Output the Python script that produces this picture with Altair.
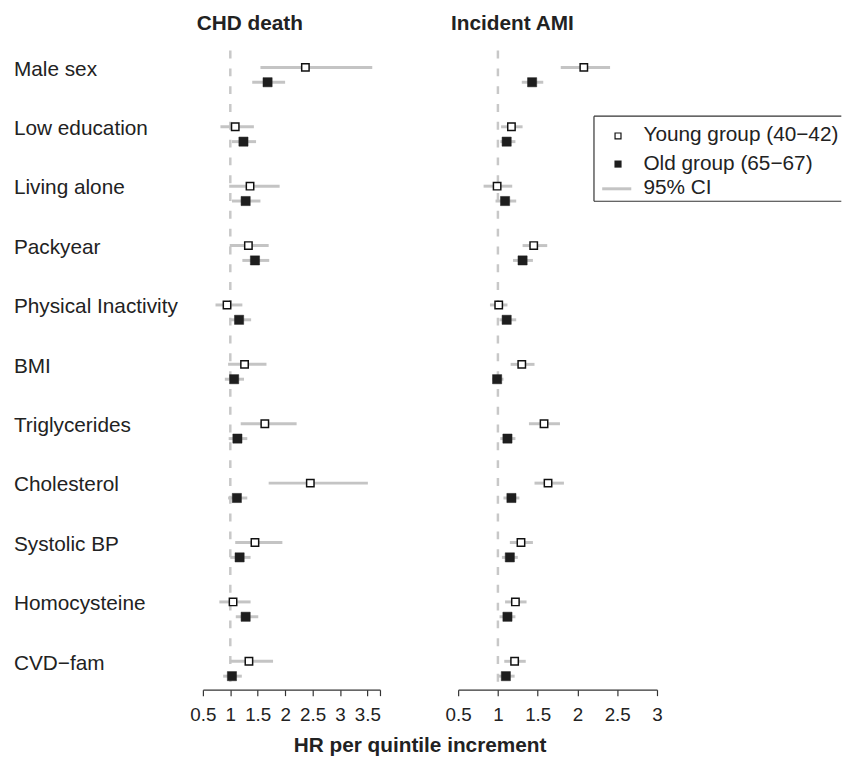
import altair as alt
import pandas as pd

FONT = "Liberation Sans"
INK = "#222222"

categories = ["Male sex", "Low education", "Living alone", "Packyear",
              "Physical Inactivity", "BMI", "Triglycerides", "Cholesterol",
              "Systolic BP", "Homocysteine", "CVD\u2212fam"]

# CHD death
chd_young_hr = [2.37, 1.09, 1.36, 1.33, 0.94, 1.26, 1.63, 2.46, 1.45, 1.05, 1.34]
chd_young_lo = [1.55, 0.82, 0.98, 0.99, 0.73, 0.96, 1.19, 1.70, 1.09, 0.80, 0.99]
chd_young_hi = [3.59, 1.43, 1.90, 1.70, 1.22, 1.66, 2.21, 3.51, 1.95, 1.37, 1.78]
chd_old_hr = [1.68, 1.24, 1.28, 1.45, 1.16, 1.07, 1.13, 1.12, 1.17, 1.28, 1.03]
chd_old_lo = [1.40, 1.03, 1.03, 1.22, 0.99, 0.90, 0.97, 0.96, 1.00, 1.10, 0.87]
chd_old_hi = [2.00, 1.47, 1.55, 1.71, 1.38, 1.25, 1.31, 1.31, 1.37, 1.51, 1.21]

# Incident AMI
ami_young_hr = [2.08, 1.17, 0.99, 1.45, 1.01, 1.30, 1.58, 1.63, 1.29, 1.22, 1.21]
ami_young_lo = [1.79, 1.04, 0.82, 1.31, 0.90, 1.16, 1.39, 1.46, 1.15, 1.09, 1.08]
ami_young_hi = [2.41, 1.31, 1.18, 1.62, 1.12, 1.46, 1.78, 1.83, 1.44, 1.36, 1.35]
ami_old_hr = [1.43, 1.11, 1.09, 1.31, 1.11, 0.99, 1.12, 1.17, 1.15, 1.12, 1.10]
ami_old_lo = [1.30, 1.03, 0.97, 1.19, 1.02, 0.93, 1.03, 1.07, 1.05, 1.02, 1.00]
ami_old_hi = [1.57, 1.22, 1.23, 1.44, 1.23, 1.07, 1.22, 1.27, 1.25, 1.22, 1.21]

left_ticks = [0.5, 1, 1.5, 2, 2.5, 3, 3.5, 3.731]
right_ticks = [0.5, 1, 1.5, 2, 2.5, 3]

legend_labels = ["Young group (40\u221242)", "Old group (65\u221267)", "95% CI"]


def build(young, old):
    rows = []
    for i, cat in enumerate(categories):
        rows.append(dict(category=cat, group="Young", hr=young[0][i], lo=young[1][i],
                         hi=young[2][i], ypos=i + 0.0))
        rows.append(dict(category=cat, group="Old", hr=old[0][i], lo=old[1][i],
                         hi=old[2][i], ypos=i + 0.25))
    return pd.DataFrame(rows)


chd = build((chd_young_hr, chd_young_lo, chd_young_hi), (chd_old_hr, chd_old_lo, chd_old_hi))
ami = build((ami_young_hr, ami_young_lo, ami_young_hi), (ami_old_hr, ami_old_lo, ami_old_hi))
labels_df = pd.DataFrame({"category": categories, "ypos": list(range(len(categories)))})
one = pd.DataFrame({"k": [0]})

H = 646
yscale = alt.Scale(domain=[-0.283, 10.478], reverse=True, nice=False, zero=False)


def axis(values, title):
    kw = dict(values=values, grid=False, domainColor="#333333", domainWidth=1.2,
              tickColor="#333333", tickWidth=1.2, tickSize=6, labelFontSize=19,
              labelFont=FONT, labelColor=INK, labelPadding=10, labelFlush=False,
              labelOverlap=False, labelBound=False, labelSeparation=0,
              labelExpr="datum.value > 3.6 ? '' : toString(datum.value)")
    if title:
        kw.update(title=title, titleX=219, titleY=62, titleAlign="center",
                  titleBaseline="alphabetic", titleFontSize=21, titleFontWeight="bold",
                  titleFont=FONT, titleColor=INK)
    else:
        kw.update(title=None)
    return alt.Axis(**kw)


def panel(df, domain, ticks, width, title_text, title_x, axis_title, extra=None):
    xs = alt.Scale(domain=domain, nice=False, zero=False)
    ax = axis(ticks, axis_title)
    dashed = alt.Chart(one).mark_rule(strokeDash=[8, 10], color="#c8c8c8",
                                      strokeWidth=2.5).encode(
        x=alt.X(datum=1, scale=xs, axis=ax),
        y=alt.value(0), y2=alt.value(H))
    ci = alt.Chart(df).mark_rule(color="#c4c4c4", strokeWidth=3).encode(
        x=alt.X("lo:Q", scale=xs, axis=ax), x2="hi:Q",
        y=alt.Y("ypos:Q", scale=yscale, axis=None))
    young = alt.Chart(df).transform_filter("datum.group == 'Young'").mark_square(
        size=56, fill="white", stroke="#111111", strokeWidth=1.5, opacity=1).encode(
        x=alt.X("hr:Q", scale=xs, axis=ax),
        y=alt.Y("ypos:Q", scale=yscale, axis=None))
    old = alt.Chart(df).transform_filter("datum.group == 'Old'").mark_square(
        size=86, fill="#1e1e1e", stroke="#1e1e1e", strokeWidth=0.5, opacity=1).encode(
        x=alt.X("hr:Q", scale=xs, axis=ax),
        y=alt.Y("ypos:Q", scale=yscale, axis=None))
    title = alt.Chart(one).mark_text(text=title_text, font=FONT, fontSize=21,
                                     fontWeight="bold", color=INK, align="center",
                                     baseline="top").encode(
        x=alt.value(title_x), y=alt.value(-38))
    layers = [dashed, ci, young, old, title]
    if extra:
        layers += extra
    return alt.layer(*layers).properties(width=width, height=H)


# category labels and layout anchor (left panel)
cat_text = alt.Chart(labels_df).mark_text(align="left", baseline="alphabetic", dy=8.4,
                                          fontSize=21, font=FONT, color=INK).encode(
    x=alt.value(-191), y=alt.Y("ypos:Q", scale=yscale, axis=None), text="category:N")
anchor = alt.Chart(one).mark_rect(opacity=0).encode(
    x=alt.value(-197), x2=alt.value(-196), y=alt.value(-39), y2=alt.value(-38))

# legend (drawn in right panel)
LX0, LX1, LY0, LY1 = 137.3, 387.3, 66.3, 152.3
box_top = alt.Chart(one).mark_rule(color="#333333", strokeWidth=1.2).encode(
    x=alt.value(LX0), x2=alt.value(LX1), y=alt.value(LY0))
box_bot = alt.Chart(one).mark_rule(color="#333333", strokeWidth=1.2).encode(
    x=alt.value(LX0), x2=alt.value(LX1), y=alt.value(LY1))
box_left = alt.Chart(one).mark_rule(color="#333333", strokeWidth=1.2).encode(
    x=alt.value(LX0), y=alt.value(LY0), y2=alt.value(LY1))
leg_young = alt.Chart(one).mark_square(size=36, fill="white", stroke="#111111",
                                       strokeWidth=1.2, opacity=1).encode(
    x=alt.value(161.6), y=alt.value(86.3))
leg_old = alt.Chart(one).mark_square(size=52, fill="#1e1e1e", opacity=1).encode(
    x=alt.value(161.6), y=alt.value(114.7))
leg_line = alt.Chart(one).mark_rule(color="#c4c4c4", strokeWidth=3).encode(
    x=alt.value(145.6), x2=alt.value(175), y=alt.value(139.7))
leg_texts = [
    alt.Chart(one).mark_text(text=t, align="left", baseline="alphabetic", fontSize=21,
                             font=FONT, color=INK).encode(x=alt.value(187.3), y=alt.value(yy))
    for t, yy in zip(legend_labels, [91.5, 120.5, 145.0])
]

left = panel(chd, [0.5, 3.731], left_ticks, 179, "CHD death", 47.5,
             "HR per quintile increment", extra=[cat_text, anchor])
right = panel(ami, [0.5, 3.0], right_ticks, 201, "Incident AMI", 54.8, None,
              extra=[box_top, box_bot, box_left, leg_young, leg_old, leg_line] + leg_texts)

chart = alt.hconcat(left, right, spacing=79, bounds="flush").configure_view(
    stroke=None).configure_axis(labelOverlap=False).properties(
    padding=0, background="white")

chart.save("out.html", embed_options={"renderer": "svg", "actions": False})
